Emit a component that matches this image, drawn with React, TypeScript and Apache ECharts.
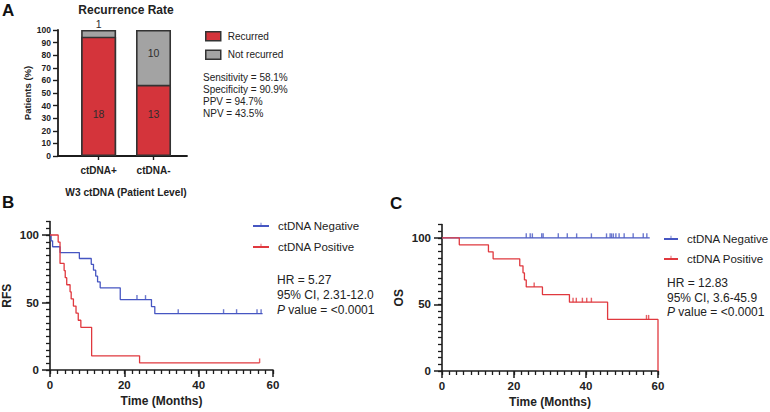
import React, { useEffect, useRef } from 'react';
import * as echarts from 'echarts';

// ---------- Panel A data ----------
const barCategories = ['ctDNA+', 'ctDNA-'];
const recurredCounts = [18, 13];
const notRecurredCounts = [1, 10];
const barYTicks = [0, 10, 20, 30, 40, 50, 60, 70, 80, 90, 100];
const statLines = ['Sensitivity = 58.1%', 'Specificity = 90.9%', 'PPV = 94.7%', 'NPV = 43.5%'];

// ---------- Panel B (RFS) data: [months, survival %] ----------
const rfsNegative: [number, number][] = [
  [0, 100], [0.3, 95.65], [0.7, 91.3], [2.7, 86.96], [7.9, 82.61], [11.1, 78.26],
  [11.7, 73.91], [12.3, 69.57], [12.8, 65.22], [13.5, 60.87], [18.9, 52.17],
  [27.3, 46.96], [28.2, 41.74], [57.2, 41.74],
];
const rfsNegativeCensored = [23.4, 25.7, 34.5, 46.7, 50.2, 55.7, 56.8];
const rfsPositive: [number, number][] = [
  [0, 100], [2.2, 94.74], [2.7, 78.95], [3.8, 73.68], [4.1, 68.42], [4.5, 63.16],
  [5.4, 57.89], [5.7, 52.63], [6.3, 47.37], [7.0, 42.11], [7.6, 36.84], [8.3, 31.58],
  [11.2, 10.53], [24.1, 5.26], [56.4, 5.26],
];
const rfsPositiveCensored = [56.4];
const rfsStats = ['HR = 5.27', '95% CI, 2.31-12.0', '<0.0001'];

// ---------- Panel C (OS) data ----------
const osNegative: [number, number][] = [[0, 100], [57.7, 100]];
const osNegativeCensored = [
  23.4, 24.5, 25.1, 27.7, 28.1, 32.3, 34.8, 37.4, 41.5, 45.7, 46.7, 47.1, 47.6,
  48.3, 49.2, 50.6, 53.1, 55.9, 56.9,
];
const osPositive: [number, number][] = [
  [0, 100], [4.8, 94.74], [12.9, 89.47], [14.2, 84.21], [21.6, 78.95], [22.5, 73.68],
  [22.9, 68.42], [23.4, 63.16], [27.9, 57.42], [35.4, 51.68], [46.0, 38.76], [60, 0],
];
const osPositiveCensored = [25.6, 36.4, 37.3, 39.0, 40.2, 41.5, 56.8, 57.4];
const osStats = ['HR = 12.83', '95% CI, 3.6-45.9', '<0.0001'];

const kmXLabels = [0, 20, 40, 60];
const kmYLabels = [0, 50, 100];

// ---------- styles ----------
const FONT = '"Liberation Sans", Arial, Helvetica, sans-serif';
const TXT = '#222';
const AXIS = '#1c1c1c';
const RED = '#d4343b';
const GRAY = '#a3a3a3';
const BORDER = '#333';
const BAR_LABEL = '#2e2e2e';
const LBLUE = '#4656c2';
const LRED = '#e0383e';

const valueAt = (curve: [number, number][], t: number) => {
  let v = curve[0][1];
  for (const [x, y] of curve) if (x <= t) v = y;
  return v;
};

const tickSymbol = 'path://M4.4,0 L5.6,0 L5.6,5 L4.4,5 Z M0,0 L0.02,0 L0,0.02 Z M10,10 L9.98,10 L10,9.98 Z';

function buildOption() {
  const totals = recurredCounts.map((r, i) => r + notRecurredCounts[i]);
  const recurredPct = recurredCounts.map((r, i) => (r / totals[i]) * 100);

  const axisLabelKM = { color: TXT, fontFamily: FONT, fontWeight: 'bold' as const, fontSize: 11.5 };
  const barLabelStyle = { color: BAR_LABEL, fontFamily: FONT, fontSize: 10.5 };

  const kmAxes = (grid: number) => ({
    x: [
      {
        gridIndex: grid, type: 'value', min: 0, max: 60, interval: 2, position: 'bottom',
        axisLine: { show: true, lineStyle: { color: AXIS, width: 1.6 } },
        axisTick: { show: true, length: 4, lineStyle: { color: AXIS, width: 1.3 } },
        axisLabel: { show: false }, splitLine: { show: false },
        name: 'Time (Months)', nameLocation: 'middle', nameGap: 25,
        nameTextStyle: { color: TXT, fontFamily: FONT, fontWeight: 'bold', fontSize: 12 },
      },
      {
        gridIndex: grid, type: 'value', min: 0, max: 60, interval: 20, position: 'bottom',
        axisLine: { show: false },
        axisTick: { show: true, length: 7, lineStyle: { color: AXIS, width: 1.5 }, customValues: kmXLabels },
        axisLabel: { ...axisLabelKM, margin: 9, customValues: kmXLabels },
        splitLine: { show: false },
      },
    ],
    y: [
      {
        gridIndex: grid, type: 'value', min: 0, max: 110, interval: 5, position: 'left',
        axisLine: { show: true, lineStyle: { color: AXIS, width: 1.6 } },
        axisTick: { show: true, length: 4, lineStyle: { color: AXIS, width: 1.3 } },
        axisLabel: { show: false }, splitLine: { show: false },
      },
      {
        gridIndex: grid, type: 'value', min: 0, max: 110, interval: 50, position: 'left',
        axisLine: { show: false },
        axisTick: { show: true, length: 8, lineStyle: { color: AXIS, width: 1.5 }, customValues: kmYLabels },
        axisLabel: {
          ...axisLabelKM, margin: 11, customValues: kmYLabels,
          formatter: (v: number) => (v % 50 === 0 && v <= 100 ? String(v) : ''),
        },
        splitLine: { show: false },
      },
    ],
  });

  const b = kmAxes(1);
  const c = kmAxes(2);
  (b.y[1] as any).name = 'RFS';
  (c.y[1] as any).name = 'OS';
  for (const ax of [b.y[1], c.y[1]] as any[]) {
    ax.nameLocation = 'middle';
    ax.nameGap = 37;
    ax.nameTextStyle = { color: TXT, fontFamily: FONT, fontWeight: 'bold', fontSize: 12 };
  }

  const kmLine = (name: string, data: [number, number][], color: string, x: number, y: number) => ({
    type: 'line', name, xAxisIndex: x, yAxisIndex: y, data, step: 'end',
    symbol: tickSymbol, showSymbol: false, symbolSize: 8,
    lineStyle: { color, width: 1.3 }, itemStyle: { color },
    silent: true, z: 3,
  });
  const censor = (name: string, curve: [number, number][], times: number[], color: string, x: number, y: number) => ({
    type: 'scatter', name, xAxisIndex: x, yAxisIndex: y,
    data: times.map((t) => [t, valueAt(curve, t)]),
    symbol: 'rect', symbolSize: [1.4, 4.5], symbolOffset: [0, -2.2],
    itemStyle: { color }, silent: true, z: 4,
  });

  const legendKM = (left: number, top: number, itemGap: number, w: number) => ({
    orient: 'vertical', left, top, itemWidth: w, itemHeight: 8, itemGap,
    data: ['ctDNA Negative', 'ctDNA Positive'],
    textStyle: { color: TXT, fontFamily: FONT, fontSize: 11.5, padding: [0, 0, 0, 4] },
    selectedMode: false,
  });

  const statText = (x: number, y0: number, lines: string[], dy: number) => [
    { type: 'text', x, y: y0, style: { text: lines[0], font: `12px ${FONT}`, fill: TXT, verticalAlign: 'middle' } },
    { type: 'text', x, y: y0 + dy, style: { text: lines[1], font: `12px ${FONT}`, fill: TXT, verticalAlign: 'middle' } },
    {
      type: 'text', x, y: y0 + 2 * dy,
      style: {
        text: `{i|P} value = ${lines[2]}`, font: `12px ${FONT}`, fill: TXT, verticalAlign: 'middle',
        rich: { i: { fontStyle: 'italic', fontFamily: FONT, fontSize: 12, fill: TXT } },
      },
    },
  ];

  const letter = (t: string, x: number, y: number) => ({
    type: 'text', x, y, style: { text: t, font: `bold 17px ${FONT}`, fill: '#111', verticalAlign: 'middle' },
  });

  return {
    animation: false,
    backgroundColor: '#fff',
    textStyle: { fontFamily: FONT },
    grid: [
      { left: 58, right: 583, top: 30, bottom: 256 },
      { left: 50, right: 497, top: 221.5, bottom: 42 },
      { left: 442, right: 112, top: 224.5, bottom: 41 },
    ],
    xAxis: [
      {
        gridIndex: 0, type: 'value', min: 0.26, max: 2.61,
        axisLine: { show: true, lineStyle: { color: AXIS, width: 1.8 } },
        axisTick: { show: true, length: 4, lineStyle: { color: AXIS, width: 1.4 }, customValues: [1, 2] },
        axisLabel: {
          color: TXT, fontFamily: FONT, fontWeight: 'bold', fontSize: 10, margin: 9,
          customValues: [1, 2], formatter: (v: number) => barCategories[Math.round(v) - 1] ?? '',
        },
        splitLine: { show: false },
        name: 'W3 ctDNA (Patient Level)', nameLocation: 'middle', nameGap: 31,
        nameTextStyle: { color: TXT, fontFamily: FONT, fontWeight: 'bold', fontSize: 10.2, padding: [0, 0, 0, 7] },
      },
      ...b.x, ...c.x,
    ],
    yAxis: [
      {
        gridIndex: 0, type: 'value', min: 0, max: 100, interval: 10,
        axisLine: { show: true, lineStyle: { color: AXIS, width: 1.8 } },
        axisTick: { show: true, length: 5, lineStyle: { color: AXIS, width: 1.4 } },
        axisLabel: { color: TXT, fontFamily: FONT, fontWeight: 'bold', fontSize: 8.5, margin: 7,
          customValues: barYTicks },
        splitLine: { show: false },
        name: 'Patients (%)', nameLocation: 'middle', nameGap: 24,
        nameTextStyle: { color: TXT, fontFamily: FONT, fontWeight: 'bold', fontSize: 9.5 },
      },
      ...b.y, ...c.y,
    ],
    legend: [
      {
        orient: 'vertical', left: 200, top: 26, itemWidth: 15, itemHeight: 9, itemGap: 8,
        icon: 'rect', data: ['Recurred', 'Not recurred'], selectedMode: false,
        itemStyle: { borderColor: BORDER, borderWidth: 1.5 },
        textStyle: { color: TXT, fontFamily: FONT, fontSize: 10, padding: [0, 0, 0, 2] },
      },
      legendKM(247, 215, 9, 16),
      legendKM(658, 228, 8, 14),
    ],
    series: [
      {
        type: 'bar', name: 'Not recurred', xAxisIndex: 0, yAxisIndex: 0, barWidth: 35, barGap: '-100%',
        data: totals.map((_, i) => {
          const pct = 100 - recurredPct[i];
          return {
            value: [i + 1, 100],
            label: pct < 15
              ? { show: true, position: 'top', distance: 1, formatter: String(notRecurredCounts[i]), ...barLabelStyle }
              : { show: true, position: 'insideTop', distance: 17, formatter: String(notRecurredCounts[i]), ...barLabelStyle },
          };
        }),
        itemStyle: { color: GRAY, borderColor: BORDER, borderWidth: 1.6 },
        label: { ...barLabelStyle },
        silent: true, z: 2,
      },
      {
        type: 'bar', name: 'Recurred', xAxisIndex: 0, yAxisIndex: 0, barWidth: 35, barGap: '-100%',
        data: recurredPct.map((p, i) => ({
          value: [i + 1, p],
          label: { show: true, position: 'insideBottom', distance: 37, formatter: String(recurredCounts[i]), ...barLabelStyle },
        })),
        itemStyle: { color: RED, borderColor: BORDER, borderWidth: 1.6 },
        label: { show: true, position: 'insideBottom', distance: 37, ...barLabelStyle },
        silent: true, z: 3,
      },
      kmLine('ctDNA Negative', rfsNegative, LBLUE, 1, 1),
      kmLine('ctDNA Positive', rfsPositive, LRED, 1, 1),
      censor('neg-censor-B', rfsNegative, rfsNegativeCensored, LBLUE, 1, 1),
      censor('pos-censor-B', rfsPositive, rfsPositiveCensored, LRED, 1, 1),
      kmLine('ctDNA Negative', osNegative, LBLUE, 3, 3),
      kmLine('ctDNA Positive', osPositive, LRED, 3, 3),
      censor('neg-censor-C', osNegative, osNegativeCensored, LBLUE, 3, 3),
      censor('pos-censor-C', osPositive, osPositiveCensored, LRED, 3, 3),
    ],
    graphic: [
      letter('A', 2, 10),
      letter('B', 2, 202),
      letter('C', 390, 203),
      {
        type: 'text', x: 126, y: 10,
        style: { text: 'Recurrence Rate', font: `bold 12px ${FONT}`, fill: TXT, align: 'center', verticalAlign: 'middle' },
      },
      ...statLines.map((s, i) => ({
        type: 'text', x: 203, y: 77 + i * 12.3,
        style: { text: s, font: `10px ${FONT}`, fill: TXT, verticalAlign: 'middle' },
      })),
      ...statText(277, 280, rfsStats, 15),
      ...statText(667, 283, osStats, 14.5),
    ],
  };
}

export default function App() {
  const ref = useRef<HTMLDivElement>(null);
  useEffect(() => {
    if (!ref.current) return;
    const chart = echarts.init(ref.current, undefined, { renderer: 'svg' });
    chart.setOption(buildOption() as any);
    return () => chart.dispose();
  }, []);
  return (
    <div
      ref={ref}
      style={{ position: 'fixed', left: 0, top: 0, width: 770, height: 412, background: '#fff' }}
    />
  );
}
